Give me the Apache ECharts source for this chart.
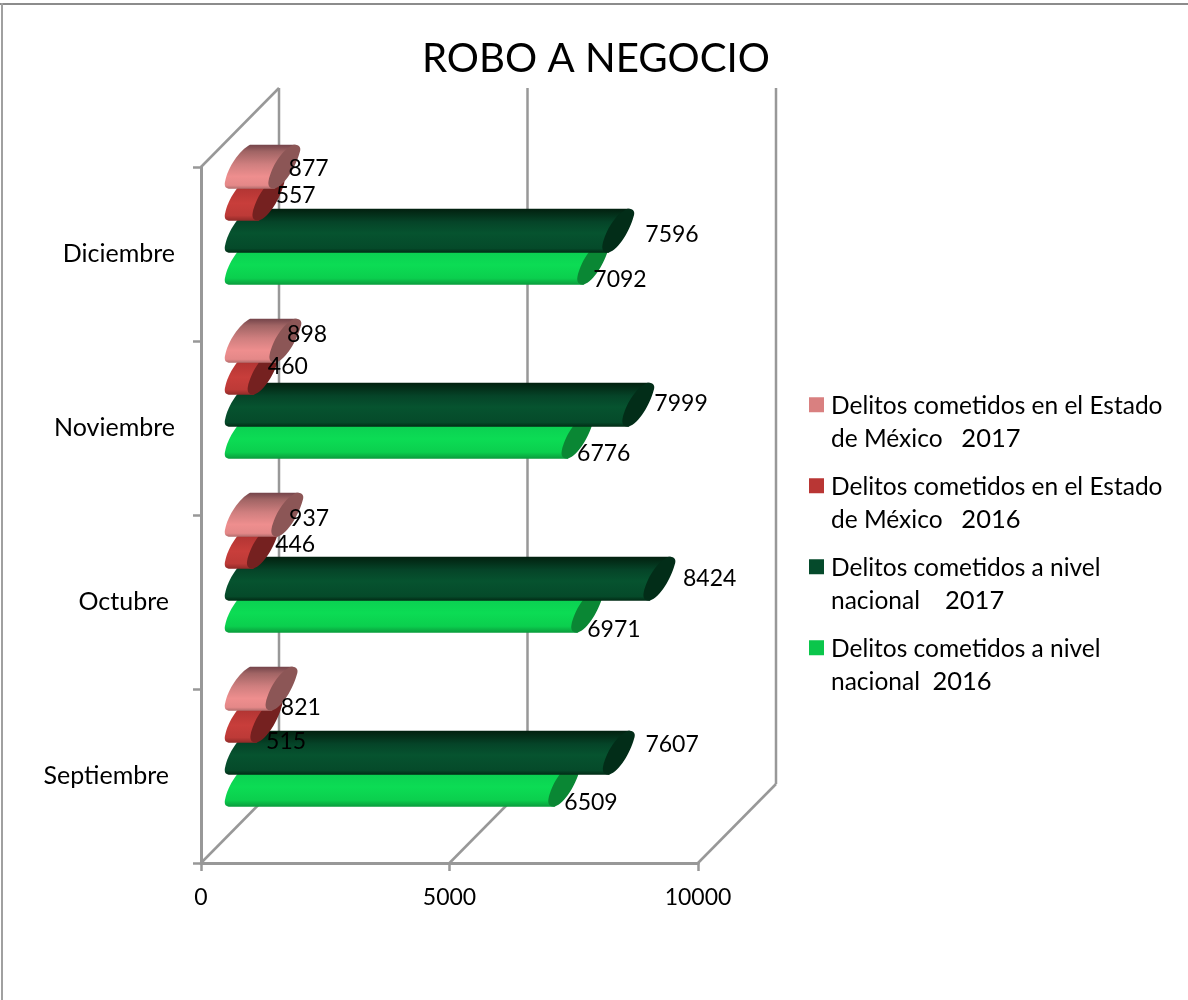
<!DOCTYPE html>
<html><head><meta charset="utf-8">
<script src="https://cdn.jsdelivr.net/npm/echarts@6/dist/echarts.min.js"></script>
<style>html,body{margin:0;padding:0;background:#fff}#c{width:1188px;height:1000px}</style>
</head><body><div id="c"></div>
<script>
const categories = ['Septiembre','Octubre','Noviembre','Diciembre'];
const nacional2016 = [6509,6971,6776,7092];
const nacional2017 = [7607,8424,7999,7596];
const edomex2016 = [515,446,460,557];
const edomex2017 = [821,937,898,877];
const xTicks = [0,5000,10000];
const titleText = 'ROBO A NEGOCIO';
const seriesNames = [
  'Delitos cometidos a nivel nacional 2016',
  'Delitos cometidos a nivel nacional 2017',
  'Delitos cometidos en el Estado de México 2016',
  'Delitos cometidos en el Estado de México 2017'
];
const legendLines = {
  [seriesNames[3]]: ['Delitos cometidos en el Estado','de México   ','2017'],
  [seriesNames[2]]: ['Delitos cometidos en el Estado','de México   ','2016'],
  [seriesNames[1]]: ['Delitos cometidos a nivel','nacional    ','2017'],
  [seriesNames[0]]: ['Delitos cometidos a nivel','nacional  ','2016']
};
const legendColors = ['#0BC64B','#054A2B','#B93634','#D98080'];
// manual label placement of the original (px from the value's axis position)
const labelNudge = [
  [[66.5,27],[66.5,27.5],[66,25.5],[66.5,26]],
  [[93,-31],[90,-23.5],[82.5,-24],[93.5,-19]],
  [[59.5,-34],[72,-57],[64,-61],[67,-58]],
  [[59,-68],[61.5,-83.5],[61.5,-93],[64,-85]]
];
const catPad = [[10,6],[8,6],[6,0],[6,0]];
const allValues = [nacional2016,nacional2017,edomex2016,edomex2017];

const grad = (stops) => ({type:'linear',x:0,y:0,x2:0,y2:1,colorStops:stops.map(s=>({offset:s[0],color:s[1]}))});
const bodyFills = [
  grad([[0,'#0a9a3e'],[0.25,'#0bd052'],[0.55,'#0cdc54'],[0.85,'#0bcf4e'],[1,'#0a9b3c']]),
  grad([[0,'#02200f'],[0.3,'#054428'],[0.55,'#06532f'],[0.9,'#054a2a'],[1,'#012a14']]),
  grad([[0,'#7a2422'],[0.3,'#b53634'],[0.6,'#c83e3b'],[0.88,'#bd3a37'],[1,'#8f2a28']]),
  grad([[0,'#74444a'],[0.15,'#a06464'],[0.45,'#d07f7f'],[0.72,'#ee8e8e'],[0.92,'#e48888'],[1,'#b06c6c']])
];
const capFills = ['#0a8734','#022d18','#752120','#8c5656'];

const BAR_H = 44, BASE_SLIDE = 24, BAR_SHIFT = -1.2, STEP_FRAC = 32/174, WALL_DX = 78, WALL_DY = 79;
const AXIS_GRAY = '#989898';

function barItem(si){
  return function(params, api){
    const v = api.value(0), idx = api.value(1);
    const p = api.coord([v, idx]);
    const o = api.coord([0, idx]);
    const band = api.size([0,1])[1];
    const bottom = p[1] + BAR_SHIFT + band*STEP_FRAC*(1-si);
    const top = bottom - BAR_H;
    const x0 = o[0] + BASE_SLIDE;
    const xv = p[0] + BASE_SLIDE;
    const body = [
      'M',x0+5,bottom,
      'C',x0+1,bottom,x0-1,bottom-2,x0,bottom-7,
      'C',x0+3,bottom-22,x0+14,top+6,x0+25,top,
      'L',xv+27,top,
      'L',xv+6,bottom,'Z'
    ].join(' ');
    const cap = [
      'M',xv+6,bottom,
      'C',xv+1,bottom,xv-1,bottom-3,xv,bottom-8,
      'C',xv+3,bottom-22,xv+13,top+5,xv+25,top,
      'C',xv+31,top-1,xv+33,top+3,xv+31,top+8,
      'C',xv+27,top+22,xv+17,bottom-4,xv+6,bottom,'Z'
    ].join(' ');
    return {type:'group',children:[
      {type:'path',shape:{pathData:body},style:{fill:bodyFills[si]}},
      {type:'path',shape:{pathData:cap},style:{fill:capFills[si]}}
    ]};
  };
}
function wallItem(params, api){
  const v = api.value(0);
  const band = api.size([0,1])[1];
  const c0 = api.coord([v,0]), c3 = api.coord([v,categories.length-1]);
  const yB = c0[1]+band/2, yT = c3[1]-band/2, x = c0[0];
  const ln = (a,b,c,d)=>({type:'line',shape:{x1:a,y1:b,x2:c,y2:d},style:{stroke:AXIS_GRAY,lineWidth:2.5}});
  const kids = [
    ln(x,yB,x+WALL_DX,yB-WALL_DY),
    ln(x+WALL_DX,yB-WALL_DY,x+WALL_DX,yT-WALL_DY)
  ];
  if(v===0) kids.push(ln(x,yT,x+WALL_DX,yT-WALL_DY));
  return {type:'group',children:kids};
}
function labelItem(params, api){
  const v = api.value(0), idx = api.value(1), si = api.value(2);
  const p = api.coord([v,idx]);
  const n = labelNudge[si][idx];
  return {type:'text',style:{text:String(v),x:p[0]+n[0],y:p[1]+n[1],align:'center',verticalAlign:'middle',
    font:'23px Lato',fill:'#000'}};
}

const barSeries = allValues.map((vals,si)=>({
  type:'custom',name:seriesNames[si],renderItem:barItem(si),z:3+si,silent:true,
  coordinateSystem:'cartesian2d',encode:{x:0,y:1},
  itemStyle:{color:legendColors[si]},
  data:vals.map((v,i)=>[v,i])
}));
const labelData = [];
allValues.forEach((vals,si)=>vals.forEach((v,i)=>labelData.push([v,i,si])));

const option = {
  animation:false,
  backgroundColor:'#fff',
  title:{text:titleText,left:591,top:34,textAlign:'center',textStyle:{fontFamily:'Lato',fontWeight:'normal',fontSize:40.2,color:'#000'}},
  grid:{left:201,top:167,width:497,height:696,containLabel:false},
  xAxis:{type:'value',min:0,max:10000,interval:5000,
    axisLine:{show:true,lineStyle:{color:AXIS_GRAY,width:3}},
    axisTick:{show:true,length:8,lineStyle:{color:AXIS_GRAY,width:2.5}},
    splitLine:{show:false},
    axisLabel:{margin:23,fontFamily:'Lato',fontSize:23,color:'#000',formatter:v=>String(v)}},
  yAxis:{type:'category',
    data:categories.map((c,i)=>({value:c,textStyle:{padding:[catPad[i][0],catPad[i][1],0,0]}})),
    axisLine:{show:true,lineStyle:{color:AXIS_GRAY,width:3}},
    axisTick:{show:true,length:8,alignWithLabel:false,lineStyle:{color:AXIS_GRAY,width:2.5}},
    splitLine:{show:false},
    axisLabel:{margin:26,fontFamily:'Lato',fontSize:25,color:'#000'}},
  legend:{
    orient:'vertical',left:809,top:394,padding:0,itemWidth:15,itemHeight:15,itemGap:23,
    icon:'rect',selectedMode:false,align:'left',
    data:seriesNames.slice().reverse(),
    formatter:n=>{const l=legendLines[n];return '{a|'+l[0]+'}\n{a|'+l[1]+'}{b|'+l[2]+'}';},
    textStyle:{padding:[36,0,0,2],rich:{
      a:{fontFamily:'Lato',fontSize:24.5,lineHeight:32.5,color:'#000'},
      b:{fontFamily:'Lato',fontSize:25.5,lineHeight:32.5,color:'#000'}}}
  },
  graphic:[
    {type:'line',silent:true,shape:{x1:0,y1:4,x2:1188,y2:4},style:{stroke:'#8c8c8c',lineWidth:2}},
    {type:'line',silent:true,shape:{x1:2,y1:3,x2:2,y2:1000},style:{stroke:'#a0a0a0',lineWidth:2}}
  ],
  series:[
    {type:'custom',name:'walls',silent:true,z:2,renderItem:wallItem,coordinateSystem:'cartesian2d',encode:{x:0},data:xTicks.map(v=>[v])},
    ...barSeries,
    {type:'custom',name:'labels',silent:true,z:20,renderItem:labelItem,coordinateSystem:'cartesian2d',encode:{x:0,y:1},data:labelData}
  ]
};
echarts.init(document.getElementById('c')).setOption(option);
</script></body></html>
